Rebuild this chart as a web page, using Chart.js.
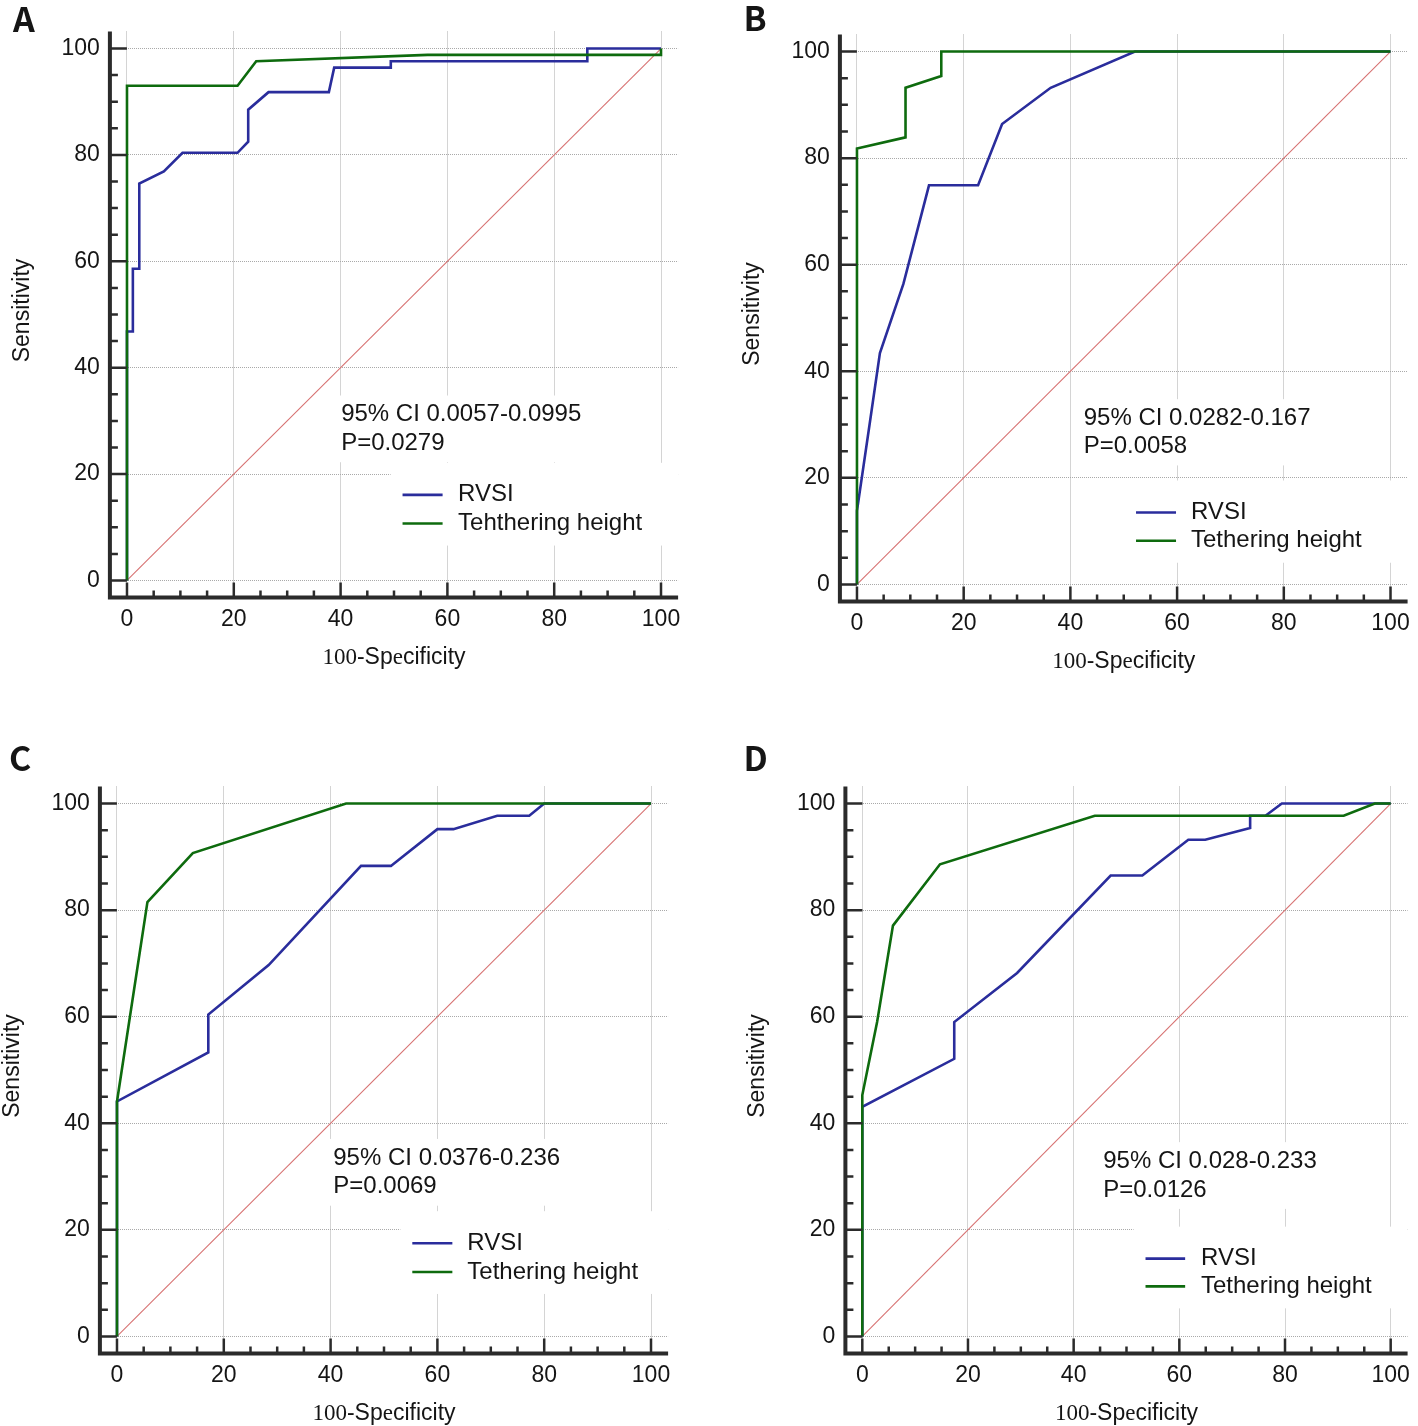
<!DOCTYPE html>
<html>
<head>
<meta charset="utf-8">
<script src="https://cdn.jsdelivr.net/npm/chart.js@4.4.1/dist/chart.umd.min.js"></script>
<style>
  html, body { margin: 0; padding: 0; background: #fff; }
  body { position: relative; width: 1418px; height: 1426px; overflow: hidden; }
  canvas { position: absolute; }
</style>
</head>
<body>
<canvas id="panelA" width="709" height="713" style="left:0;top:0"></canvas>
<canvas id="panelB" width="709" height="713" style="left:709px;top:0"></canvas>
<canvas id="panelC" width="709" height="713" style="left:0;top:713px"></canvas>
<canvas id="panelD" width="709" height="713" style="left:709px;top:713px"></canvas>
<script>
// axis ticks (every 5, labelled every 20)
const minorTicks = [0, 5, 10, 15, 20, 25, 30, 35, 40, 45, 50, 55, 60, 65, 70, 75, 80, 85, 90, 95, 100];
const majorTicks = [0, 20, 40, 60, 80, 100];
const yTitle = "Sensitivity";
const xTitleParts = ["100", "-Sp", "e", "cificity"];

// reference line
const diagX = [0, 100];
const diagY = [0, 100];

// A
const aRvsiX = [0, 0, 1.1, 1.1, 2.3, 2.3, 6.9, 10.4, 20.7, 22.7, 22.7, 26.5, 37.8, 38.8, 49.4, 49.4, 86.2, 86.2, 100];
const aRvsiY = [0, 46.8, 46.8, 58.6, 58.6, 74.6, 76.9, 80.4, 80.4, 82.5, 88.5, 91.8, 91.8, 96.4, 96.4, 97.6, 97.6, 100, 100];
const aTethX = [0, 0, 20.7, 24.2, 56.3, 100, 100];
const aTethY = [0, 93, 93, 97.6, 98.8, 98.8, 100];
const aNames = ["RVSI", "Tehthering height"];
const aNotes = ["95% CI 0.0057-0.0995", "P=0.0279"];

// B
const bRvsiX = [0, 0, 2.3, 4.3, 8.7, 13.5, 22.7, 27.2, 36.3, 52.1, 100];
const bRvsiY = [0, 13.8, 29.6, 43.4, 56.4, 74.9, 74.9, 86.4, 93.2, 100, 100];
const bTethX = [0, 0, 9.1, 9.1, 15.8, 15.8, 100];
const bTethY = [0, 81.8, 83.9, 93.2, 95.4, 100, 100];
const bNames = ["RVSI", "Tethering height"];
const bNotes = ["95% CI 0.0282-0.167", "P=0.0058"];

// C
const cRvsiX = [0, 0, 17.1, 17.1, 28.4, 45.7, 51.3, 60.0, 63.0, 71.2, 77.2, 80.0, 100];
const cRvsiY = [0, 44.1, 53.3, 60.4, 69.7, 88.3, 88.3, 95.2, 95.2, 97.7, 97.7, 100, 100];
const cTethX = [0, 0, 5.7, 14.2, 42.9, 100];
const cTethY = [0, 44.1, 81.5, 90.7, 100, 100];
const cNames = ["RVSI", "Tethering height"];
const cNotes = ["95% CI 0.0376-0.236", "P=0.0069"];

// D
const dRvsiX = [0, 0, 17.4, 17.4, 29.3, 47.0, 53.0, 61.7, 64.9, 73.4, 73.4, 76.3, 79.4, 100];
const dRvsiY = [0, 43.1, 52.1, 59.0, 68.2, 86.5, 86.5, 93.2, 93.2, 95.4, 97.7, 97.7, 100, 100];
const dTethX = [0, 0, 2.8, 5.8, 14.7, 44.0, 91.1, 97.0, 100];
const dTethY = [0, 45.3, 59.0, 77.1, 88.6, 97.7, 97.7, 100, 100];
const dNames = ["RVSI", "Tethering height"];
const dNotes = ["95% CI 0.028-0.233", "P=0.0126"];

const SANS = "'Liberation Sans', Arial, sans-serif";
const SERIF = "'Liberation Serif', 'Times New Roman', serif";
const BLUE = "#2a2d9c";
const GREEN = "#0e6b0e";
const DIAG = "#d77272";
const GRID = "#a9a9a9";
const AXIS = "#2b2b2b";
const TEXT = "#151515";
const W = 709, H = 713;

const panels = [
  { id: "panelA", letter: "A", letterAt: [13, 32], area: { left: 109.9, top: 31.5, right: 678.1, bottom: 597.5 },
    rvsi: [aRvsiX, aRvsiY], teth: [aTethX, aTethY], names: aNames, notes: aNotes,
    noteAt: { x: 40.1, y1: 31.2, y2: 25.8 }, legendAt: { x1: 51.6, x2: 59.1, tx: 62.0, y1: 16.1, y2: 10.7 } },
  { id: "panelB", letter: "B", letterAt: [34.5, 30.5], area: { left: 130.9, top: 34.5, right: 699.1, bottom: 601.5 },
    rvsi: [bRvsiX, bRvsiY], teth: [bTethX, bTethY], names: bNames, notes: bNotes,
    noteAt: { x: 42.5, y1: 31.2, y2: 25.9 }, legendAt: { x1: 52.3, x2: 59.8, tx: 62.6, y1: 13.5, y2: 8.2 } },
  { id: "panelC", letter: "C", letterAt: [9, 58], area: { left: 99.9, top: 73.5, right: 668.1, bottom: 640.5 },
    rvsi: [cRvsiX, cRvsiY], teth: [cTethX, cTethY], names: cNames, notes: cNotes,
    noteAt: { x: 40.5, y1: 33.5, y2: 28.1 }, legendAt: { x1: 55.3, x2: 62.8, tx: 65.6, y1: 17.5, y2: 12.1 } },
  { id: "panelD", letter: "D", letterAt: [34.5, 58], area: { left: 136.4, top: 73.5, right: 704.7, bottom: 640.5 },
    rvsi: [dRvsiX, dRvsiY], teth: [dTethX, dTethY], names: dNames, notes: dNotes,
    noteAt: { x: 45.6, y1: 32.9, y2: 27.5 }, legendAt: { x1: 53.6, x2: 61.1, tx: 64.1, y1: 14.6, y2: 9.4 } }
];

const toPoints = (xs, ys) => xs.map((x, i) => ({ x: x, y: ys[i] }));

function decor(p) {
  return {
    id: "decor" + p.letter,
    beforeDatasetsDraw(chart) {
      const { ctx, chartArea: a, scales: { x, y } } = chart;
      ctx.save();
      ctx.font = "24px " + SANS;
      const tx = x.getPixelForValue(p.noteAt.x);
      const t1 = y.getPixelForValue(p.noteAt.y1), t2 = y.getPixelForValue(p.noteAt.y2);
      const w = Math.max(...p.notes.map(t => ctx.measureText(t).width));
      ctx.fillStyle = "#fff";
      ctx.fillRect(tx - 4, t1 - 19, w + 10, t2 - t1 + 38);
      const lx = x.getPixelForValue(p.legendAt.x1) - 12;
      const l1 = y.getPixelForValue(p.legendAt.y1), l2 = y.getPixelForValue(p.legendAt.y2);
      ctx.fillRect(lx, l1 - 32, a.right - lx, l2 - l1 + 54);
      ctx.restore();
    },
    afterDatasetsDraw(chart) {
      const { ctx, scales: { x, y } } = chart;
      ctx.save();
      ctx.font = "24px " + SANS;
      ctx.fillStyle = TEXT;
      ctx.textAlign = "left";
      ctx.textBaseline = "middle";
      const tx = x.getPixelForValue(p.noteAt.x);
      ctx.fillText(p.notes[0], tx, y.getPixelForValue(p.noteAt.y1));
      ctx.fillText(p.notes[1], tx, y.getPixelForValue(p.noteAt.y2));
      // legend
      const rows = [p.legendAt.y1, p.legendAt.y2];
      chart.data.datasets.filter(d => d.label).forEach((d, i) => {
        const ry = y.getPixelForValue(rows[i]);
        ctx.strokeStyle = d.borderColor;
        ctx.lineWidth = 2.6;
        ctx.beginPath();
        ctx.moveTo(x.getPixelForValue(p.legendAt.x1), ry);
        ctx.lineTo(x.getPixelForValue(p.legendAt.x2), ry);
        ctx.stroke();
        ctx.fillText(d.label, x.getPixelForValue(p.legendAt.tx), ry);
      });
      ctx.restore();
    },
    afterDraw(chart) {
      const { ctx, chartArea: a, scales: { x, y } } = chart;
      ctx.save();
      // inside ticks
      ctx.strokeStyle = AXIS;
      ctx.lineWidth = 2.5;
      ctx.beginPath();
      minorTicks.forEach(v => {
        const major = majorTicks.includes(v);
        const py = y.getPixelForValue(v);
        ctx.moveTo(a.left, py);
        ctx.lineTo(a.left + (major ? 17 : 8), py);
        const px = x.getPixelForValue(v);
        ctx.moveTo(px, a.bottom);
        ctx.lineTo(px, a.bottom - (major ? 15 : 7));
      });
      ctx.stroke();
      // axis lines
      ctx.lineWidth = 4;
      ctx.beginPath();
      ctx.moveTo(a.left, a.top);
      ctx.lineTo(a.left, a.bottom + 2);
      ctx.moveTo(a.left - 2, a.bottom);
      ctx.lineTo(a.right, a.bottom);
      ctx.stroke();
      // x title, mixed fonts as in the figure
      ctx.fillStyle = TEXT;
      ctx.textBaseline = "alphabetic";
      ctx.textAlign = "left";
      const fonts = ["23px " + SERIF, "23px " + SANS, "23px " + SERIF, "23px " + SANS];
      const widths = xTitleParts.map((t, i) => { ctx.font = fonts[i]; return ctx.measureText(t).width; });
      let cx = (a.left + a.right) / 2 - widths.reduce((s, v) => s + v, 0) / 2;
      xTitleParts.forEach((t, i) => {
        ctx.font = fonts[i];
        ctx.fillText(t, cx, a.bottom + 66);
        cx += widths[i];
      });
      // panel letter
      ctx.font = "bold 34px 'Noto Sans CJK SC', 'Noto Sans', sans-serif";
      ctx.fillText(p.letter, p.letterAt[0], p.letterAt[1]);
      // y title
      ctx.font = "23px " + SANS;
      ctx.textAlign = "center";
      ctx.textBaseline = "alphabetic";
      ctx.translate(a.left - 81, (a.top + a.bottom) / 2 - 4);
      ctx.rotate(-Math.PI / 2);
      ctx.fillText(yTitle, 0, 0);
      ctx.restore();
    }
  };
}

function axisOptions(axis, p) {
  return {
    type: "linear",
    min: -3.2,
    max: 103.2,
    bounds: "data",
    afterBuildTicks: s => { s.ticks = minorTicks.map(v => ({ value: v })); },
    afterFit: s => {
      if (axis === "x") s.height = H - p.area.bottom;
      else s.width = p.area.left;
    },
    grid: {
      drawTicks: false,
      color: GRID,
      lineWidth: c => (c.tick && majorTicks.includes(c.tick.value)) ? 1 : 0
    },
    border: { display: false, dash: [1, 1] },
    ticks: {
      autoSkip: false,
      maxRotation: 0,
      minRotation: 0,
      padding: axis === "x" ? 8 : 10,
      color: TEXT,
      font: { family: SANS, size: 23 },
      callback: v => majorTicks.includes(v) ? String(v) : ""
    },
    title: { display: false }
  };
}

panels.forEach(p => {
  const lineStyle = { pointRadius: 0, tension: 0, fill: false, borderWidth: 2.6 };
  new Chart(document.getElementById(p.id), {
    type: "line",
    data: {
      datasets: [
        Object.assign({ label: p.names[0], data: toPoints(p.rvsi[0], p.rvsi[1]), borderColor: BLUE, order: 1 }, lineStyle),
        Object.assign({ label: p.names[1], data: toPoints(p.teth[0], p.teth[1]), borderColor: GREEN, order: 0 }, lineStyle),
        Object.assign({}, lineStyle, { label: "", data: toPoints(diagX, diagY), borderColor: DIAG, borderWidth: 1.1, order: 2 })
      ]
    },
    options: {
      responsive: false,
      animation: false,
      events: [],
      layout: { padding: { left: 0, top: p.area.top, right: W - p.area.right, bottom: 0 } },
      plugins: { legend: { display: false }, tooltip: { enabled: false } },
      scales: { x: axisOptions("x", p), y: axisOptions("y", p) }
    },
    plugins: [decor(p)]
  });
});
</script>
</body>
</html>
